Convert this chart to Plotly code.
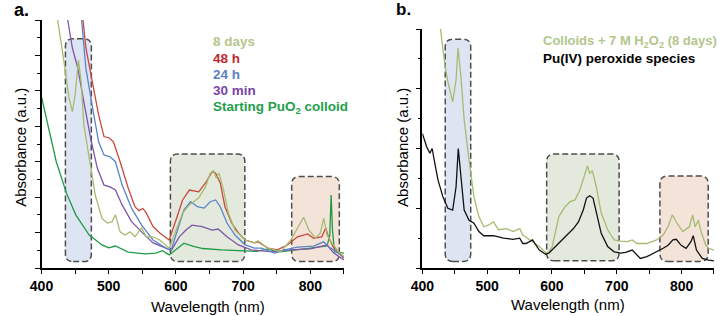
import plotly.graph_objects as go

# ---------------- data: panel a ----------------
wl_start = [400, 412, 422, 437, 451, 471, 490, 500, 510, 529, 554, 570, 580, 590, 600, 612, 625, 640, 668,
            700, 720, 737, 750, 770, 800, 825, 829, 831, 833, 836, 850]
abs_start = [4.83, 3.85, 3.00, 2.12, 1.50, 0.93, 0.65, 0.57, 0.62, 0.45, 0.40, 0.42, 0.49, 0.37, 0.51, 0.70, 0.62,
             0.55, 0.51, 0.49, 0.47, 0.54, 0.45, 0.49, 0.56, 0.62, 0.93, 2.06, 1.07, 0.46, 0.42]

wl_48h = [455, 461, 466, 476, 485, 493, 501, 507, 517, 529, 539, 545, 551, 556, 566, 576, 590, 600, 610, 620,
          627, 634, 644, 654, 659, 666, 673, 683, 693, 703, 717, 722, 737, 751, 766, 781, 796, 805, 817, 823,
          827, 834, 844, 850]
abs_48h = [8.0, 7.14, 6.21, 5.26, 4.32, 3.71, 3.67, 3.56, 3.00, 2.26, 1.73, 1.62, 1.68, 1.55, 1.17, 0.99, 0.79,
           1.35, 1.92, 2.20, 2.17, 2.15, 2.40, 2.72, 2.68, 2.40, 1.73, 1.27, 0.99, 0.79, 0.71, 0.74, 0.56, 0.51,
           0.65, 0.88, 0.96, 0.84, 0.88, 1.13, 0.88, 0.60, 0.42, 0.28]

wl_24h = [455, 458.6, 466, 476, 485, 493, 502, 510, 520, 534, 549, 566, 585, 593, 602, 612, 622, 632, 642, 651,
          659, 666, 676, 688, 703, 717, 727, 747, 761, 781, 805, 820, 827, 839, 850]
abs_24h = [8.0, 7.14, 5.64, 4.52, 3.56, 3.19, 3.14, 3.00, 2.34, 1.69, 1.21, 0.79, 0.56, 0.51, 1.07, 1.64, 1.87,
           1.73, 1.69, 1.87, 1.92, 1.73, 1.27, 0.93, 0.65, 0.56, 0.56, 0.42, 0.51, 0.59, 0.62, 0.74, 0.60, 0.46,
           0.28]

wl_30min = [435, 439, 446, 454, 463, 473, 483, 493, 502, 510, 520, 534, 549, 566, 585, 593, 605, 615, 624, 639,
            654, 663, 676, 693, 712, 740, 770, 800, 825, 835, 850]
abs_30min = [7.6, 7.0, 6.21, 5.64, 4.69, 3.67, 2.82, 2.34, 2.29, 2.20, 1.78, 1.31, 1.02, 0.71, 0.56, 0.49, 0.88,
             1.07, 1.21, 1.17, 1.07, 1.10, 0.88, 0.65, 0.51, 0.46, 0.51, 0.54, 0.65, 0.42, 0.23]

wl_8d = [420, 424, 432, 438, 441, 446, 450, 455, 459, 463, 471, 480, 490, 498, 505, 510, 517, 524, 532, 539, 549,
         556, 566, 576, 590, 600, 610, 620, 627, 634, 644, 651, 656, 660, 664, 671, 678, 688, 703, 717, 722, 737,
         756, 771, 781, 790, 798, 808, 815, 820, 825, 832, 842, 850]
abs_8d = [7.6, 7.0, 6.01, 5.26, 4.80, 4.41, 4.88, 5.87, 5.26, 4.04, 3.10, 2.06, 1.40, 1.27, 1.31, 1.50, 1.02, 0.93,
          1.02, 0.88, 1.13, 0.88, 0.88, 0.79, 0.56, 1.07, 1.55, 1.78, 1.87, 1.98, 2.29, 2.67, 2.75, 2.54, 2.68,
          2.20, 1.55, 1.07, 0.79, 0.71, 0.77, 0.56, 0.46, 0.79, 1.13, 1.43, 1.07, 0.84, 0.99, 1.40, 0.93, 0.71,
          0.46, 0.32]

# ---------------- data: panel b ----------------
wl_perox = [400, 406.6, 411.6, 415.1, 419.2, 424.2, 431.7, 439.3, 446.8, 452, 455.4, 459.5, 464.5, 472, 479.6,
            487.2, 494.7, 509.8, 525, 540, 550.2, 555, 560, 570, 580.4, 590.3, 595.5, 605.4, 615.6, 625.7, 633.2,
            640.8, 648.3, 653.3, 658.3, 663.4, 668.4, 676, 686, 696, 706.2, 713.7, 723.9, 736.4, 746.5, 761.6,
            771.6, 779.2, 786.7, 791.8, 799.4, 807, 814.5, 818, 823, 832, 842, 850]
abs_perox = [2.25, 2.03, 1.92, 2.00, 1.75, 1.47, 1.19, 1.00, 0.97, 1.36, 2.00, 1.47, 0.97, 0.80, 0.75, 0.61, 0.54,
             0.54, 0.50, 0.48, 0.50, 0.41, 0.41, 0.47, 0.30, 0.23, 0.25, 0.36, 0.47, 0.58, 0.66, 0.77, 0.97, 1.17,
             1.21, 1.17, 0.92, 0.58, 0.36, 0.27, 0.25, 0.26, 0.30, 0.16, 0.19, 0.27, 0.33, 0.38, 0.47, 0.48, 0.38,
             0.33, 0.44, 0.54, 0.30, 0.16, 0.13, 0.12]

wl_coll = [428, 434.3, 439.3, 446.8, 452, 455, 459.5, 464.5, 472, 479.6, 487.2, 494.7, 502.3, 509.8, 517.4, 530,
           540, 550.2, 555, 565, 580.4, 593, 600.5, 610.6, 620.5, 628, 635.6, 643.2, 650.8, 654.8, 658.3, 662.4,
           668.4, 676, 686, 696, 706, 716, 724, 731, 746.5, 761.6, 771.6, 779, 785.8, 791.8, 801.8, 812, 817, 821,
           826, 830, 837.5, 842, 850]
abs_coll = [4.0, 3.43, 3.12, 2.78, 3.15, 3.68, 3.20, 2.48, 1.81, 1.19, 0.86, 0.69, 0.72, 0.77, 0.64, 0.66, 0.61,
            0.66, 0.55, 0.47, 0.36, 0.23, 0.36, 0.86, 1.03, 1.11, 1.14, 1.31, 1.58, 1.71, 1.58, 1.63, 1.36, 0.92,
            0.64, 0.47, 0.45, 0.44, 0.47, 0.41, 0.41, 0.47, 0.55, 0.69, 0.89, 0.77, 0.61, 0.69, 0.89, 0.69, 0.80,
            0.61, 0.38, 0.33, 0.30]

# highlighted bands: (x0, x1, y0, y1) per panel
boxes_a = [(435.6, 474.2, 0.18, 6.47), (591.8, 702.6, 0.18, 3.22), (772.3, 843.2, 0.18, 2.58)]
boxes_b = [(435.3, 474.6, 0.11, 3.83), (591.8, 703.6, 0.12, 1.91), (766.6, 841.1, 0.11, 1.54)]
box_fills = ["#dde5f2", "#e3e9dc", "#f4e3d8"]

W, H = 723, 316
FONT = "Liberation Sans, Arial, sans-serif"

def px(x):
    return x / W

def py(y):
    return 1 - y / H

fig = go.Figure()

LW = 1.3
series_a = [
    (wl_start, abs_start, "#1f9a45"),
    (wl_30min, abs_30min, "#7e55a8"),
    (wl_24h, abs_24h, "#5b84c8"),
    (wl_48h, abs_48h, "#cc463d"),
    (wl_8d, abs_8d, "#a7bb70"),
]
for xs, ys, c in series_a:
    fig.add_trace(go.Scatter(x=xs, y=ys, mode="lines", line=dict(color=c, width=LW),
                             xaxis="x", yaxis="y", showlegend=False, hoverinfo="skip"))

series_b = [
    (wl_coll, abs_coll, "#a7bb70"),
    (wl_perox, abs_perox, "#111111"),
]
for xs, ys, c in series_b:
    fig.add_trace(go.Scatter(x=xs, y=ys, mode="lines", line=dict(color=c, width=LW),
                             xaxis="x2", yaxis="y2", showlegend=False, hoverinfo="skip"))


def rounded(x0, x1, y0, y1, rx, ry):
    return (f"M {x0+rx},{y0} L {x1-rx},{y0} Q {x1},{y0} {x1},{y0+ry} "
            f"L {x1},{y1-ry} Q {x1},{y1} {x1-rx},{y1} "
            f"L {x0+rx},{y1} Q {x0},{y1} {x0},{y1-ry} "
            f"L {x0},{y0+ry} Q {x0},{y0} {x0+rx},{y0} Z")

shapes = []
for (boxes, xr, yr, rx, ry) in [(boxes_a, "x", "y", 11.5, 0.22), (boxes_b, "x2", "y2", 12.0, 0.13)]:
    for (x0, x1, y0, y1), fc in zip(boxes, box_fills):
        shapes.append(dict(type="path", path=rounded(x0, x1, y0, y1, rx, ry), xref=xr, yref=yr,
                           fillcolor=fc, line=dict(color="#4d4d4d", width=1.5, dash="6px,3px"),
                           layer="below"))

axis_common = dict(
    showgrid=False, zeroline=False, showline=True, linecolor="black", linewidth=1.5,
    ticks="outside", tickcolor="black", ticklen=4, tickwidth=1.2,
)
xcommon = dict(axis_common, range=[400, 850], dtick=100, tick0=400,
               tickfont=dict(family=FONT, size=14, color="black", weight="bold"),
               minor=dict(dtick=50, ticks="outside", ticklen=4, tickcolor="black", tickwidth=1.2))

fig.update_layout(
    width=W, height=H,
    margin=dict(l=0, r=0, t=0, b=0),
    paper_bgcolor="white", plot_bgcolor="white",
    font=dict(family=FONT, color="black"),
    xaxis=dict(xcommon, domain=[px(30), px(337.5)], anchor="y"),
    yaxis=dict(axis_common, domain=[py(268), py(20)], range=[0, 7], dtick=1, tick0=0, anchor="x",
               showticklabels=False, ticklen=5,
               minor=dict(dtick=0.5, ticks="outside", ticklen=3, tickcolor="black", tickwidth=1.2)),
    xaxis2=dict(xcommon, domain=[px(417.3), px(713.8)], anchor="y2"),
    yaxis2=dict(axis_common, domain=[py(268), py(29)], range=[0, 4], dtick=1, tick0=0, anchor="x2",
                showticklabels=False, ticklen=5,
                minor=dict(dtick=0.5, ticks="outside", ticklen=3, tickcolor="black", tickwidth=1.2)),
    shapes=shapes,
)

ann = []

def text(x, y, s, size, color="black", xanchor="left", angle=0):
    ann.append(dict(x=px(x), y=py(y), xref="paper", yref="paper", text=s, showarrow=False,
                    xanchor=xanchor, yanchor="middle", textangle=angle, borderpad=0, borderwidth=0,
                    font=dict(family=FONT, size=size, color=color)))

# panel labels
text(2, 10, "<b>a.</b>", 18)
text(390, 9, "<b>b.</b>", 17)

# legend texts panel a
leg_a = [("8 days", "#b3c68c"), ("48 h", "#c0282e"), ("24 h", "#5a7ec0"),
         ("30 min", "#7a45a5"), ("Starting PuO<sub>2</sub> colloid", "#22a04c")]
for i, (s, c) in enumerate(leg_a):
    text(204, 41.7 + i * 16.4, f"<b>{s}</b>", 13.5, c)

# legend texts panel b
text(540, 41.7, "<b>Colloids + 7 M H<sub>2</sub>O<sub>2</sub> (8 days)</b>", 13, "#b3c68c")
text(540, 58.3, "<b>Pu(IV) peroxide species</b>", 13.5, "black")

# axis titles
text(199.5, 306, "Wavelength (nm)", 15, xanchor="center")
text(565, 304, "Wavelength (nm)", 15, xanchor="center")
text(8, 147, "Absorbance (a.u.)", 15, xanchor="center", angle=-90)
text(396.5, 147, "Absorbance (a.u.)", 15, xanchor="center", angle=-90)

fig.update_layout(annotations=ann)

fig.write_html("out.html")
